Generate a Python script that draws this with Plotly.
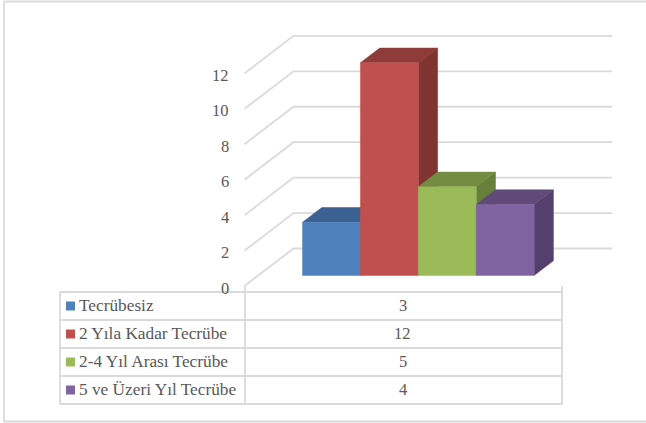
import plotly.graph_objects as go

categories = ["Tecrübesiz", "2 Yıla Kadar Tecrübe", "2-4 Yıl Arası Tecrübe", "5 ve Üzeri Yıl Tecrübe"]
values = [3, 12, 5, 4]
front_colors = ["#4F81BD", "#C0504D", "#9BBB59", "#8064A2"]
top_colors = ["#3A6191", "#8F3B39", "#748C42", "#5F4A79"]
side_colors = ["#345680", "#7F3432", "#67803B", "#553F6C"]
y_ticks = [0, 2, 4, 6, 8, 10, 12]

W, H = 646, 423
X0, XU = 331.45, 57.9      # px of category 0, px per category
Y0, YU = 275.4, 17.72      # px of value 0, px per unit
def xd(px): return (px - X0) / XU
def yd(px): return (Y0 - px) / YU

DX = 19.3 / XU   # bar depth in data units
DY = 14.7 / YU
GF_X, GB_X, GR_X = xd(244.5), xd(293.5), xd(612)
GF_Y, GB_Y = yd(286), yd(248.5)
GRID = "#DADADA"
TXT = "#595959"
FONT = "Liberation Serif"

fig = go.Figure()

for t in y_ticks:
    fig.add_trace(go.Scatter(
        x=[GF_X, GB_X, GR_X], y=[t + GF_Y, t + GB_Y, t + GB_Y], mode="lines",
        line=dict(color=GRID, width=1.8), hoverinfo="skip", showlegend=False))

def face(xs, ys, color):
    fig.add_trace(go.Scatter(
        x=xs, y=ys, mode="lines", fill="toself", fillcolor=color,
        line=dict(color=color, width=0.5), hoverinfo="skip", showlegend=False))

for i, v in enumerate(values):
    l, r = i - 0.5, i + 0.5
    face([r, r + DX, r + DX, r, r], [0, DY, v + DY, v, 0], side_colors[i])
    face([l, l + DX, r + DX, r, l], [v, v + DY, v + DY, v, v], top_colors[i])
    face([l, r, r, l, l], [0, 0, v, v, 0], front_colors[i])

ann = []
for t in y_ticks:
    ann.append(dict(x=xd(231), y=t + GF_Y, xref="x", yref="y", text=str(t), showarrow=False,
                    xanchor="right", yanchor="middle", yshift=-2,
                    font=dict(family=FONT, size=16.5, color=TXT)))

# data table
TL, TM, TR = 60, 245, 562
TT, RH = 292, 28
shapes = []
def line(x0, y0, x1, y1, w=1.8, c=GRID):
    shapes.append(dict(type="line", xref="paper", yref="paper",
                       x0=x0 / W, x1=x1 / W, y0=1 - y0 / H, y1=1 - y1 / H,
                       line=dict(color=c, width=w)))
for r in range(len(categories) + 1):
    line(TL, TT + r * RH, TR, TT + r * RH)
line(TL, TT, TL, TT + 4 * RH)
line(TM, 286, TM, TT + 4 * RH)
line(TR, 286, TR, TT + 4 * RH)
for r, (c, v) in enumerate(zip(categories, values)):
    cy = TT + (r + 0.5) * RH
    shapes.append(dict(type="rect", xref="paper", yref="paper",
                       x0=66 / W, x1=75 / W, y0=1 - (cy + 4.5) / H, y1=1 - (cy - 4.5) / H,
                       fillcolor=front_colors[r], line=dict(width=0)))
    ann.append(dict(x=77 / W, y=1 - cy / H, xref="paper", yref="paper", text=c, showarrow=False,
                    xanchor="left", yanchor="middle", yshift=1,
                    font=dict(family=FONT, size=17.3, color=TXT)))
    ann.append(dict(x=((TM + TR) / 2 - 1) / W, y=1 - cy / H, xref="paper", yref="paper", text=str(v),
                    showarrow=False, xanchor="center", yanchor="middle", yshift=1,
                    font=dict(family=FONT, size=16.5, color=TXT)))

# outer frame (no right edge inside the picture)
line(4, 1.5, 4, 422)
line(4, 421.5, 646, 421.5)
line(4, 1.5, 646, 1.5)

fig.update_layout(
    width=W, height=H, margin=dict(l=0, r=0, t=0, b=0),
    paper_bgcolor="white", plot_bgcolor="white",
    xaxis=dict(range=[xd(0), xd(W)], visible=False, fixedrange=True),
    yaxis=dict(range=[yd(H), yd(0)], visible=False, fixedrange=True),
    shapes=shapes, annotations=ann, showlegend=False,
)
fig.write_html("out.html", config={"displayModeBar": False},
               post_script="document.body.style.margin='0';document.body.style.overflow='hidden';")
